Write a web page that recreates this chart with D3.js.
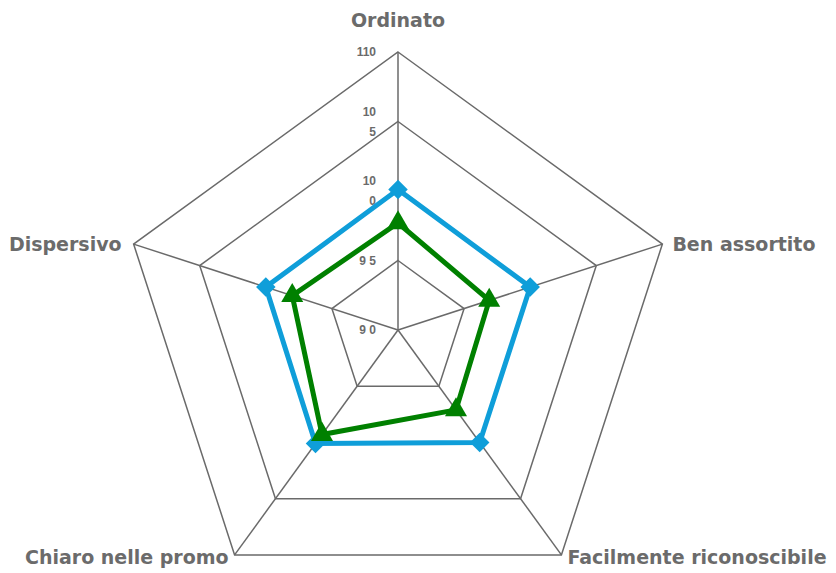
<!DOCTYPE html>
<html>
<head>
<meta charset="utf-8">
<script src="https://cdn.jsdelivr.net/npm/d3@7"></script>
<style>
  body { margin: 0; background: #fff; }
  svg text { font-weight: 700; fill: #6b6b6b; }
</style>
</head>
<body>
<div id="radar"></div>
<script>
// Chart data
const axes = ["Ordinato", "Ben assortito", "Facilmente riconoscibile", "Chiaro nelle promo", "Dispersivo"];
const seriesBlue = [100.1, 100, 100, 100.1, 100];
const seriesGreen = [97.7, 96.9, 97.1, 99.3, 98.0];
const tickValues = [90, 95, 100, 105, 110];
const tickLabels = [["9 0"], ["9 5"], ["10", "0"], ["10", "5"], ["110"]];

const width = 836, height = 573;
const cx = 398, cy = 330, radius = 278;

const svg = d3.select("#radar").append("svg")
    .attr("width", width)
    .attr("height", height);

const g = svg.append("g").attr("transform", `translate(${cx},${cy})`);

// Radial scale
const rScale = d3.scaleLinear().domain([90, 110]).range([0, radius]);
const angle = i => -Math.PI / 2 + i * 2 * Math.PI / axes.length;
const point = (v, i) => [rScale(v) * Math.cos(angle(i)), rScale(v) * Math.sin(angle(i))];

// Grid rings
tickValues.slice(1).forEach(t => {
    g.append("polygon")
        .attr("points", axes.map((_, i) => point(t, i).join(",")).join(" "))
        .attr("fill", "none")
        .attr("stroke", "#6a6a6a")
        .attr("stroke-width", 1.5);
});

// Spokes
axes.forEach((_, i) => {
    const [x, y] = point(110, i);
    g.append("line")
        .attr("x1", 0).attr("y1", 0)
        .attr("x2", x).attr("y2", y)
        .attr("stroke", "#6a6a6a")
        .attr("stroke-width", 1.5);
});

// Tick labels
tickValues.forEach((t, k) => {
    const lines = tickLabels[k];
    const y0 = -rScale(t) - (lines.length - 1) * 10;
    const txt = g.append("text")
        .attr("text-anchor", "end")
        .style("font-family", "'Liberation Sans', Arial, sans-serif")
        .style("font-size", "12px");
    lines.forEach((l, j) => {
        txt.append("tspan")
            .attr("x", -22)
            .attr("y", y0 + j * 20)
            .attr("dy", "0.35em")
            .text(l);
    });
});

// Series
const line = d3.line().curve(d3.curveLinearClosed);

function drawSeries(values, color, symbolType, size) {
    const pts = values.map((v, i) => point(v, i));
    g.append("path")
        .attr("d", line(pts))
        .attr("fill", "none")
        .attr("stroke", color)
        .attr("stroke-width", 5)
        .attr("stroke-linejoin", "miter");
    pts.forEach(([x, y]) => {
        g.append("path")
            .attr("d", d3.symbol().type(symbolType).size(size)())
            .attr("transform", `translate(${x},${y})` + (symbolType === d3.symbolSquare ? " rotate(45)" : ""))
            .attr("fill", color);
    });
}

drawSeries(seriesBlue, "#0f9ed9", d3.symbolSquare, 190);
drawSeries(seriesGreen, "#008000", d3.symbolTriangle, 210);

// Axis labels
const labelPos = [
    { dx: 0, dy: -32, anchor: "middle" },
    { dx: 10, dy: 0, anchor: "start" },
    { dx: 6, dy: 2, anchor: "start" },
    { dx: -6, dy: 2, anchor: "end" },
    { dx: -12, dy: 0, anchor: "end" }
];
axes.forEach((a, i) => {
    const [x, y] = point(110, i);
    g.append("text")
        .attr("x", x + labelPos[i].dx)
        .attr("y", y + labelPos[i].dy)
        .attr("dy", "0.35em")
        .attr("text-anchor", labelPos[i].anchor)
        .style("font-family", "'DejaVu Sans', sans-serif")
        .style("font-size", "19px")
        .text(a);
});
</script>
</body>
</html>
